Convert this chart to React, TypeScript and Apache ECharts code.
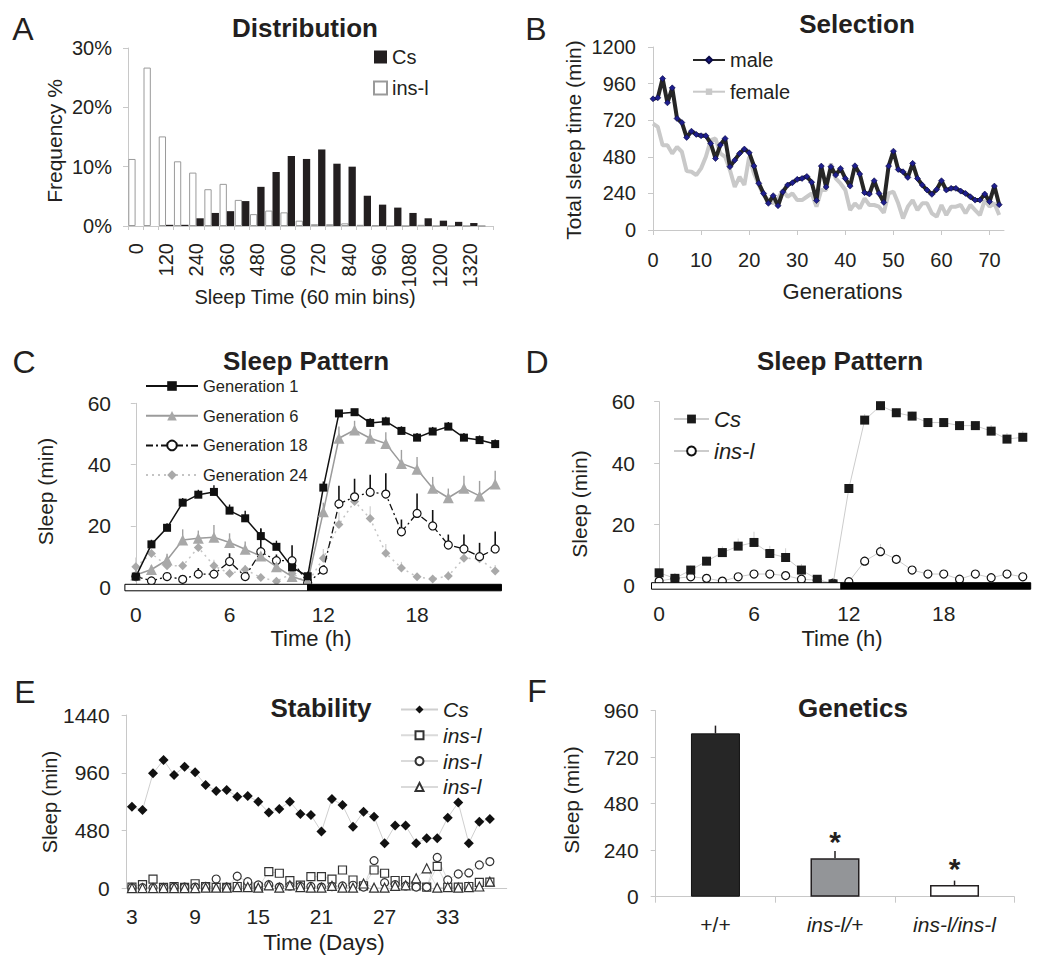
import { useEffect, useRef } from "react";
import * as echarts from "echarts";

const FONT = '"Liberation Sans", Arial, Helvetica, sans-serif';
const INK = "#231f20";
const AX = "#c8c8c8";

// ---------- A: Distribution ----------
const binStarts = ["0","60","120","180","240","300","360","420","480","540","600","660","720","780","840","900","960","1020","1080","1140","1200","1260","1320","1380"];
const csPercent = [0,0,0.2,0.2,1.3,2.2,2.5,4.2,6.6,9.1,11.8,11.3,12.9,10.5,10.0,5.1,3.6,3.1,2.2,1.3,0.9,0.7,0.5,0];
const inslPercent = [11.3,26.7,15.1,10.9,9.0,6.2,7.1,4.4,2.0,2.6,2.3,0.9,0.3,0.3,0.45,0.2,0.1,0,0,0.2,0,0,0,0];

// ---------- B: Selection (generation 0..72) ----------
const maleSleep = [860,867,993,834,932,731,705,607,648,627,618,618,568,469,557,600,415,458,502,531,507,420,306,240,175,225,159,250,295,310,332,338,351,313,193,419,282,415,360,404,338,288,421,367,245,236,323,240,181,419,517,397,382,345,437,338,295,262,234,266,323,262,273,273,255,240,218,196,196,236,186,288,166];
const femaleSleep = [698,676,556,556,502,545,513,386,382,360,404,480,589,600,502,480,393,283,349,295,480,371,295,229,196,175,207,262,218,240,196,196,218,240,153,262,262,436,338,305,262,131,175,142,207,164,164,153,113,240,251,175,76,153,196,131,175,175,109,87,164,98,153,153,164,109,164,131,98,196,153,175,98];

// ---------- C: Sleep pattern by generation (hour 0..23) ----------
const gen1 = [3.5,14.0,19.4,27.6,30.2,31.1,25.0,22.5,16.7,13.2,6.5,3.6,32.5,56.7,57.1,53.6,54.1,51.0,48.8,50.8,52.4,48.8,48.0,46.7];
const gen1Err = [1,1.5,1.5,1.5,1.6,2.2,2,2.5,2.5,2,2.5,1.5,2,1,1,1.5,1.5,1.5,1.5,1.5,1.5,1.5,1.5,1.5];
const gen6 = [4.0,5.8,8.9,15.4,16.0,16.3,14.6,12.4,10.2,6.7,3.5,1.8,24.6,48.6,51.3,48.6,46.9,40.4,38.5,32.3,29.2,32.3,29.8,33.7];
const gen6Err = [2,1.5,2,3.5,2.5,4,3,2.5,2.5,2,2,1.5,3,3.8,3,3,3.7,4.4,4,3.7,3,4.1,4.9,4.3];
const gen18 = [3.5,2.1,3.5,2.6,4.3,4.3,8.4,3.5,11.6,8.7,8.7,1.5,5.6,27.2,29.5,31.0,30.4,18.1,24.1,20.0,13.8,12.5,10.0,12.5];
const gen18Err = [0.5,0.5,0.5,0.5,2,1,2.7,1,7.6,2,5,0.5,1.5,5.9,5.9,5.7,6.8,4,6.5,5.2,3.4,4.7,4.5,5.7];
const gen24 = [6.7,11.0,7.0,7.0,13.0,7.0,4.5,5.8,3.2,2.0,4.5,1.4,9.5,20.5,28.0,22.4,11.1,6.3,3.4,2.7,3.7,9.5,9.3,5.3];
const gen24Err = [3,1,1,1.5,2,2,1.5,1.5,1,1,1,1,3,4,3.5,4,3,2,1,1,1.5,2,2,2];
const cPhases = [[-0.7, 11, 0], [11, 23.4, 1]]; // [start h, end h, dark?]

// ---------- D: Cs vs ins-l pattern ----------
const dCs = [4.2,2.4,5.1,8.0,10.8,12.9,14.1,10.5,9.2,5.1,2.1,0.6,31.7,54.0,58.7,56.4,55.3,53.2,53.2,52.2,52.2,50.4,47.8,48.4];
const dCsErr = [1,1,1.5,1.5,2,2.5,3.5,2.5,3,2,1,0.5,1.5,2,1.5,1.5,1.5,1.5,1.5,1.5,1.5,2,2,2];
const dInsl = [1.5,2.4,2.9,2.4,1.5,2.9,3.8,3.8,3.3,2.1,1.8,0.8,1.3,8.0,11.1,8.6,5.1,3.8,3.8,2.1,3.8,2.6,3.8,2.9];
const dInslErr = [0.5,0.5,0.5,0.5,0.5,0.5,1,1,1,0.5,0.5,0.5,0.5,1.5,2.5,1.5,1,1,1,0.5,1,0.5,1,1];
const dPhases = [[-0.48, 11.5, 0], [11.5, 23.5, 1]];

// ---------- E: Stability (days 3..37) ----------
const eCs = [678,651,955,1066,941,1011,964,858,809,817,761,767,720,629,659,720,617,609,471,742,692,512,637,595,374,521,521,374,415,415,587,712,374,554,576];
const eInslSquare = [10,30,77,8,15,8,38,15,8,8,15,15,10,138,125,63,27,97,97,77,152,69,20,152,125,65,65,20,10,182,10,10,15,50,52];
const eInslCircle = [5,5,5,5,10,10,10,15,77,10,100,55,28,30,10,20,15,15,10,15,20,25,10,230,47,30,20,10,10,256,69,119,128,194,222];
const eInslTriangle = [2,2,2,2,2,2,2,5,5,5,10,10,5,25,5,25,10,5,5,20,5,5,40,5,5,20,25,83,166,5,10,5,10,15,55];
const firstDay = 3;

// ---------- F: Genetics ----------
const genotypes = ["+/+", "ins-l/+", "ins-l/ins-l"];
const genoSleep = [843, 198, 60];
const genoSem = [40, 38, 23];
const genoSignificant = [false, true, true];

// ---------- helpers ----------
const gtext = (text: string, x: number, y: number, size: number, o: any = {}) => ({
  type: "text", x, y, rotation: o.rot || 0, silent: true,
  style: { text, fill: INK, fontSize: size, fontWeight: o.bold ? "bold" : "normal", fontStyle: o.italic ? "italic" : "normal", fontFamily: FONT, align: "center", verticalAlign: "middle" },
});
const letter = (t: string, x: number, y: number) => gtext(t, x, y, 32);
const title = (t: string, x: number, y: number) => gtext(t, x, y, 26, { bold: true });
const yName = (t: string, x: number, y: number, s: number) => gtext(t, x, y, s, { rot: Math.PI / 2 });
const xName = (t: string, x: number, y: number, s: number) => gtext(t, x, y, s);
const plain = (v: number) => String(v);

const valueY = (min: number, max: number, interval: number, size: number, extra: any = {}) => ({
  type: "value", min, max, interval,
  axisLine: { show: true, lineStyle: { color: AX } },
  axisTick: { show: true, length: 5, lineStyle: { color: AX } },
  splitLine: { show: false },
  axisLabel: { fontSize: size, color: INK, margin: 17, fontFamily: FONT, formatter: plain },
  ...extra,
});

const pairs = (vals: number[], start = 0) => vals.map((v, i) => [start + i, v]);

const errSeries = (vals: number[], errs: number[], color: string, width: number, start = 0) => ({
  type: "custom", silent: true, z: 2,
  data: vals.map((v, i) => [start + i, v, errs[i]]),
  renderItem: (_p: any, api: any) => {
    const x = api.value(0), v = api.value(1), e = api.value(2);
    const a = api.coord([x, v]);
    const b = api.coord([x, v + e]);
    return { type: "line", shape: { x1: a[0], y1: a[1], x2: b[0], y2: b[1] }, style: { stroke: color, lineWidth: width } };
  },
});

const phaseSeries = (phases: number[][]) => ({
  type: "custom", silent: true, z: 5,
  data: phases,
  renderItem: (_p: any, api: any) => {
    const s = api.coord([api.value(0), 0]);
    const e = api.coord([api.value(1), 0]);
    return { type: "rect", shape: { x: s[0], y: s[1] - 3, width: e[0] - s[0], height: 6.5 }, style: { fill: api.value(2) ? "#000" : "#fff", stroke: "#000", lineWidth: 1 } };
  },
});

const hourAxis = (min: number, max: number) => ({
  type: "value", min, max,
  axisLine: { show: false }, axisTick: { show: false }, splitLine: { show: false },
  axisLabel: { customValues: [0, 6, 12, 18], fontSize: 21, color: INK, margin: 17, formatter: plain },
});

// ---------- options ----------
const optA = {
  animation: false, textStyle: { fontFamily: FONT },
  graphic: [letter("A", 23, 29), title("Distribution", 305, 28), yName("Frequency %", 54, 141, 21), xName("Sleep Time (60 min bins)", 305, 297, 20)],
  legend: { orient: "vertical", left: 373, top: 47, padding: 0, icon: "rect", itemWidth: 13, itemHeight: 13, itemGap: 11, textStyle: { fontSize: 20, color: INK, lineHeight: 20 }, data: ["Cs", "ins-l"] },
  grid: { left: 128, top: 48, width: 365, height: 178 },
  xAxis: {
    type: "category", data: binStarts,
    axisLine: { lineStyle: { color: AX } },
    axisTick: { show: true, length: 4, interval: 0, lineStyle: { color: AX } },
    axisLabel: { interval: 1, rotate: 90, fontSize: 20, color: INK, margin: 17 },
  },
  yAxis: valueY(0, 30, 10, 20, { axisLabel: { formatter: "{value}%", fontSize: 20, color: INK, margin: 16 } }),
  series: [
    { name: "ins-l", type: "bar", data: inslPercent, barGap: "0%", barCategoryGap: "4%", itemStyle: { color: "#fff", borderColor: "#9a9a9a", borderWidth: 1 } },
    { name: "Cs", type: "bar", data: csPercent, itemStyle: { color: INK } },
  ],
};

const optB = {
  animation: false, textStyle: { fontFamily: FONT },
  graphic: [letter("B", 536, 29), title("Selection", 857, 24), yName("Total sleep time (min)", 573, 140, 21), xName("Generations", 842.5, 291, 22)],
  legend: { orient: "vertical", left: 692, top: 50, padding: 0, itemWidth: 32, itemHeight: 8, itemGap: 11.7, textStyle: { fontSize: 20, color: INK, lineHeight: 20 }, data: ["male", "female"] },
  grid: { left: 653, top: 47, width: 351, height: 183 },
  xAxis: {
    type: "value", min: 0, max: 73, interval: 10,
    axisLine: { show: true, lineStyle: { color: AX } },
    axisTick: { show: true, length: 5, lineStyle: { color: AX } },
    splitLine: { show: false },
    axisLabel: { fontSize: 20, color: INK, margin: 20, showMaxLabel: false, formatter: plain },
  },
  yAxis: valueY(0, 1200, 240, 20),
  series: [
    { name: "female", type: "line", data: pairs(femaleSleep), symbol: "rect", symbolSize: 4, showSymbol: false, z: 2, lineStyle: { color: "#c9c9c9", width: 4 }, itemStyle: { color: "#c9c9c9" } },
    { name: "male", type: "line", data: pairs(maleSleep), symbol: "diamond", symbolSize: 6, z: 3, lineStyle: { color: "#262626", width: 4 }, itemStyle: { color: "#1e1e8c", borderColor: "#0b0b45", borderWidth: 0.6 } },
  ],
};

const optC = {
  animation: false, textStyle: { fontFamily: FONT },
  graphic: [letter("C", 24, 362), title("Sleep Pattern", 306, 361), yName("Sleep (min)", 45, 491.5, 21), xName("Time (h)", 311, 638, 22)],
  legend: { orient: "vertical", left: 145, top: 376, padding: 0, itemWidth: 52, itemHeight: 12, itemGap: 9.7, textStyle: { fontSize: 16.5, color: INK, lineHeight: 20 }, data: ["Generation 1", "Generation 6", "Generation 18", "Generation 24"] },
  grid: { left: 128, top: 403.3, width: 375, height: 184 },
  xAxis: hourAxis(-0.5, 23.5),
  yAxis: valueY(0, 60, 20, 21),
  series: [
    phaseSeries(cPhases),
    errSeries(gen24, gen24Err, "#cfcfcf", 1.2),
    errSeries(gen18, gen18Err, "#111", 1.6),
    errSeries(gen6, gen6Err, "#a0a0a0", 1.4),
    errSeries(gen1, gen1Err, "#111", 1.4),
    { name: "Generation 24", type: "line", data: pairs(gen24), z: 3, symbol: "diamond", symbolSize: 9, lineStyle: { color: "#c4c4c4", width: 1.5, type: [2, 4] }, itemStyle: { color: "#a9a9a9" } },
    { name: "Generation 18", type: "line", data: pairs(gen18), z: 4, symbol: "circle", symbolSize: 8, lineStyle: { color: "#111", width: 1.3, type: [7, 3, 2, 3] }, itemStyle: { color: "#fff", borderColor: "#111", borderWidth: 1.2 } },
    { name: "Generation 6", type: "line", data: pairs(gen6), z: 4, symbol: "triangle", symbolSize: 11, lineStyle: { color: "#9b9b9b", width: 1.5 }, itemStyle: { color: "#a8a8a8" } },
    { name: "Generation 1", type: "line", data: pairs(gen1), z: 4, symbol: "rect", symbolSize: 8, lineStyle: { color: "#111", width: 1.5 }, itemStyle: { color: "#111" } },
  ],
};

const optD = {
  animation: false, textStyle: { fontFamily: FONT },
  graphic: [letter("D", 537, 361.5), title("Sleep Pattern", 840, 361), yName("Sleep (min)", 579, 504, 21), xName("Time (h)", 842, 638, 22)],
  legend: { orient: "vertical", left: 673, top: 408, padding: 0, itemWidth: 35, itemHeight: 11, itemGap: 10, textStyle: { fontSize: 22, color: INK, fontStyle: "italic", lineHeight: 20 }, data: ["Cs", "ins-l"] },
  grid: { left: 652, top: 401.7, width: 378.7, height: 184 },
  xAxis: hourAxis(-0.45, 23.5),
  yAxis: valueY(0, 60, 20, 21),
  series: [
    phaseSeries(dPhases),
    errSeries(dCs, dCsErr, "#cfcfcf", 1),
    errSeries(dInsl, dInslErr, "#cfcfcf", 1),
    { name: "ins-l", type: "line", data: pairs(dInsl), z: 3, symbol: "circle", symbolSize: 8, lineStyle: { color: "#cccccc", width: 1 }, itemStyle: { color: "#fff", borderColor: "#111", borderWidth: 1.2 } },
    { name: "Cs", type: "line", data: pairs(dCs), z: 4, symbol: "rect", symbolSize: 9, lineStyle: { color: "#cccccc", width: 1 }, itemStyle: { color: "#1a1a1a" } },
  ],
};

const optE = {
  animation: false, textStyle: { fontFamily: FONT },
  graphic: [letter("E", 25, 692), title("Stability", 321, 707.5), yName("Sleep (min)", 50, 802, 20), xName("Time (Days)", 324, 942, 22.5)],
  legend: {
    orient: "vertical", left: 400, top: 699, padding: 0, itemWidth: 37, itemHeight: 10, itemGap: 4.8,
    textStyle: { fontSize: 21, color: INK, fontStyle: "italic", lineHeight: 20 },
    data: ["Cs", "ins-l (1)", "ins-l (2)", "ins-l (3)"],
    formatter: (n: string) => (n.indexOf("ins-l") === 0 ? "ins-l" : n),
  },
  grid: { left: 126.7, top: 715, width: 380, height: 173.3 },
  xAxis: {
    type: "value", min: 2.5, max: 38.6,
    axisLine: { show: true, lineStyle: { color: AX } }, axisTick: { show: false }, splitLine: { show: false },
    axisLabel: { customValues: [3, 9, 15, 21, 27, 33], fontSize: 21, color: INK, margin: 18, formatter: plain },
  },
  yAxis: valueY(0, 1440, 480, 21),
  series: [
    { name: "ins-l (1)", type: "line", data: pairs(eInslSquare, firstDay), z: 3, symbol: "rect", symbolSize: 8, lineStyle: { color: "#dadada", width: 1 }, itemStyle: { color: "#fff", borderColor: "#333", borderWidth: 1.2 } },
    { name: "ins-l (2)", type: "line", data: pairs(eInslCircle, firstDay), z: 3, symbol: "circle", symbolSize: 8, lineStyle: { color: "#dadada", width: 1 }, itemStyle: { color: "#fff", borderColor: "#333", borderWidth: 1.2 } },
    { name: "ins-l (3)", type: "line", data: pairs(eInslTriangle, firstDay), z: 3, symbol: "triangle", symbolSize: 9, lineStyle: { color: "#dadada", width: 1 }, itemStyle: { color: "#fff", borderColor: "#333", borderWidth: 1.2 } },
    { name: "Cs", type: "line", data: pairs(eCs, firstDay), z: 4, symbol: "diamond", symbolSize: 10, lineStyle: { color: "#cfcfcf", width: 1 }, itemStyle: { color: "#111" } },
  ],
};

const genoBarStyles = [
  { color: "#262626", borderColor: "#111", borderWidth: 1 },
  { color: "#939598", borderColor: INK, borderWidth: 1.5 },
  { color: "#ffffff", borderColor: INK, borderWidth: 1.5 },
];

const optF = {
  animation: false, textStyle: { fontFamily: FONT },
  graphic: [letter("F", 537, 691), title("Genetics", 853, 708), yName("Sleep (min)", 571, 800, 21)],
  grid: { left: 655.7, top: 710.7, width: 358.6, height: 186 },
  xAxis: {
    type: "category",
    data: genotypes.map((g) => ({ value: g, textStyle: { fontStyle: g.indexOf("ins-l") >= 0 ? "italic" : "normal" } })),
    axisLine: { lineStyle: { color: AX } },
    axisTick: { show: true, length: 6, lineStyle: { color: AX } },
    axisLabel: { fontSize: 21, color: INK, margin: 17 },
  },
  yAxis: valueY(0, 960, 240, 21),
  series: [
    {
      type: "bar", barWidth: 49, z: 2,
      data: genoSleep.map((v, i) => ({
        value: v,
        itemStyle: genoBarStyles[i],
        label: { show: genoSignificant[i], position: "top", distance: 2, formatter: "*", fontSize: 30, fontWeight: "bold", color: INK },
      })),
    },
    errSeries(genoSleep, genoSem, INK, 1.5),
  ],
};

const OPTIONS = [optA, optB, optC, optD, optE, optF];

function Chart({ option }: { option: any }) {
  const ref = useRef<HTMLDivElement>(null);
  useEffect(() => {
    const chart = echarts.init(ref.current!, undefined, { renderer: "svg" });
    chart.setOption(option);
    return () => chart.dispose();
  }, [option]);
  return <div ref={ref} style={{ position: "absolute", left: 0, top: 0, width: 1050, height: 969 }} />;
}

export default function App() {
  return (
    <div style={{ position: "absolute", left: 0, top: 0, width: 1050, height: 969, background: "#fff", overflow: "hidden" }}>
      {OPTIONS.map((o, i) => (
        <Chart key={i} option={o} />
      ))}
    </div>
  );
}
